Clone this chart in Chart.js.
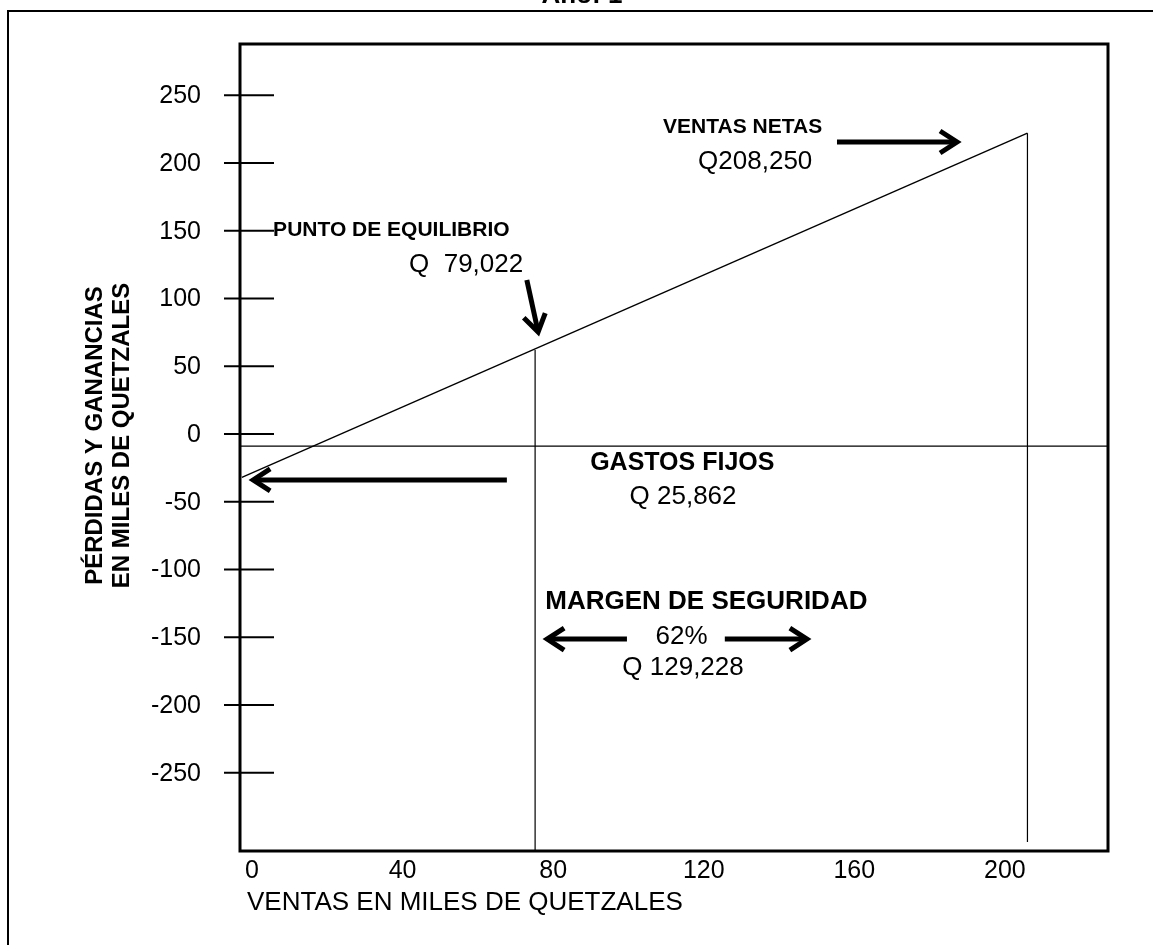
<!DOCTYPE html>
<html><head><meta charset="utf-8">
<script src="https://cdn.jsdelivr.net/npm/chart.js@4.4.1/dist/chart.umd.min.js"></script>
<style>html,body{margin:0;padding:0;background:#fff;}canvas{display:block;}</style>
</head><body>
<canvas id="c" width="1153" height="945"></canvas>
<script>
// ---- data ----
const chartTitle = 'Año: 1';
const xAxisTitle = 'VENTAS EN MILES DE QUETZALES';
const yAxisTitle = ['PÉRDIDAS Y GANANCIAS', 'EN MILES DE QUETZALES'];
const xTickValues = [0, 40, 80, 120, 160, 200];
const xTickLabels = ['0', '40', '80', '120', '160', '200'];
const yTickValues = [250, 200, 150, 100, 50, 0, -50, -100, -150, -200, -250];
const yTickLabels = ['250', '200', '150', '100', '50', '0', '-50', '-100', '-150', '-200', '-250'];
const xRange = [-3.2, 227.4];
const yRange = [-307.7, 287.8];
const salesLineX = [-2.7, 206];
const salesLineY = [-32, 222];
const fixedCostLevel = -9;
const breakevenX = 75.2;
const breakevenY = 62;
const netSalesX = 206;
const netSalesTop = 222;
const netSalesBottom = -301;
const labelTexts = ['PUNTO DE EQUILIBRIO', 'Q  79,022', 'VENTAS NETAS', 'Q208,250', 'GASTOS FIJOS', 'Q 25,862', 'MARGEN DE SEGURIDAD', '62%', 'Q 129,228'];
const labelX = [5.6, 41.7, 109.2, 118.5, 114.3, 114.5, 120.7, 114.1, 114.5];
const labelY = [150.6, 124.7, 226.6, 200.7, -21.4, -46.5, -124, -149.8, -172.7];
const arrowFromX = [73.0, 155.4, 67.7, 99.6, 125.6];
const arrowFromY = [113.7, 215.5, -33.9, -151.3, -151.3];
const arrowToX = [76.0, 187.3, 0.3, 78.4, 147.4];
const arrowToY = [75.3, 215.5, -33.9, -151.3, -151.3];

// ---- styles ----
const FONT = '"Liberation Sans", Arial, Helvetica, sans-serif';
const labelStyle = [
  {bold: true, size: 21, align: 'left'},
  {bold: false, size: 26, align: 'left'},
  {bold: true, size: 21, align: 'left'},
  {bold: false, size: 26, align: 'left'},
  {bold: true, size: 25, align: 'center'},
  {bold: false, size: 26, align: 'center'},
  {bold: true, size: 26, align: 'center'},
  {bold: false, size: 26, align: 'center'},
  {bold: false, size: 26, align: 'center'}
];

function drawArrow(ctx, x1, y1, x2, y2) {
  const ang = Math.atan2(y2 - y1, x2 - x1);
  const hl = 17, hw = 11;
  ctx.save();
  ctx.strokeStyle = '#000';
  ctx.lineWidth = 5;
  ctx.lineCap = 'butt';
  ctx.beginPath();
  ctx.moveTo(x1, y1);
  ctx.lineTo(x2 - Math.cos(ang) * 3, y2 - Math.sin(ang) * 3);
  ctx.stroke();
  ctx.lineJoin = 'miter';
  ctx.beginPath();
  const bx = x2 - Math.cos(ang) * hl, by = y2 - Math.sin(ang) * hl;
  const px = -Math.sin(ang) * hw, py = Math.cos(ang) * hw;
  ctx.moveTo(bx + px, by + py);
  ctx.lineTo(x2, y2);
  ctx.lineTo(bx - px, by - py);
  ctx.stroke();
  ctx.restore();
}

const decor = {
  id: 'decor',
  beforeDraw(chart) {
    const ctx = chart.ctx;
    ctx.save();
    ctx.fillStyle = '#fff';
    ctx.fillRect(0, 0, chart.width, chart.height);
    ctx.restore();
  },
  afterDraw(chart) {
    const ctx = chart.ctx;
    const xs = chart.scales.x, ys = chart.scales.y;
    const a = chart.chartArea;
    ctx.save();
    // outer frame
    ctx.strokeStyle = '#000';
    ctx.lineWidth = 2;
    ctx.beginPath();
    ctx.moveTo(chart.width + 5, 11);
    ctx.lineTo(8, 11);
    ctx.lineTo(8, chart.height + 5);
    ctx.stroke();
    // title (cut at top)
    ctx.fillStyle = '#000';
    ctx.font = 'bold 26px ' + FONT;
    ctx.textAlign = 'center';
    ctx.textBaseline = 'alphabetic';
    ctx.fillText(chartTitle, 582, 3);
    // plot frame
    ctx.lineWidth = 3;
    ctx.strokeRect(a.left, a.top, a.right - a.left, a.bottom - a.top);
    // y ticks
    ctx.lineWidth = 2;
    ctx.font = '25px ' + FONT;
    ctx.textAlign = 'right';
    ctx.textBaseline = 'middle';
    yTickValues.forEach((v, i) => {
      const y = ys.getPixelForValue(v);
      ctx.beginPath();
      ctx.moveTo(a.left - 16, y);
      ctx.lineTo(a.left + 34, y);
      ctx.stroke();
      ctx.fillText(yTickLabels[i], a.left - 39, y + 1);
    });
    // x tick labels
    ctx.textAlign = 'center';
    ctx.textBaseline = 'middle';
    xTickValues.forEach((v, i) => {
      ctx.fillText(xTickLabels[i], xs.getPixelForValue(v), a.bottom + 20);
    });
    // x title
    ctx.font = '26px ' + FONT;
    ctx.textAlign = 'left';
    ctx.fillText(xAxisTitle, a.left + 7, a.bottom + 52);
    // y title
    ctx.font = 'bold 24px ' + FONT;
    ctx.textAlign = 'center';
    const cy = (a.top + a.bottom) / 2 - 12;
    [[95, yAxisTitle[0]], [122, yAxisTitle[1]]].forEach(([x, t]) => {
      ctx.save();
      ctx.translate(x, cy);
      ctx.rotate(-Math.PI / 2);
      ctx.fillText(t, 0, 0);
      ctx.restore();
    });
    // annotations
    labelTexts.forEach((t, i) => {
      const st = labelStyle[i];
      ctx.font = (st.bold ? 'bold ' : '') + st.size + 'px ' + FONT;
      ctx.textAlign = st.align;
      ctx.textBaseline = 'middle';
      ctx.fillText(t, xs.getPixelForValue(labelX[i]), ys.getPixelForValue(labelY[i]));
    });
    arrowFromX.forEach((_, i) => {
      drawArrow(ctx, xs.getPixelForValue(arrowFromX[i]), ys.getPixelForValue(arrowFromY[i]),
        xs.getPixelForValue(arrowToX[i]), ys.getPixelForValue(arrowToY[i]));
    });
    ctx.restore();
  }
};

const lineDs = (data, w) => ({
  data, showLine: true, borderColor: '#000', borderWidth: w, pointRadius: 0, fill: false, tension: 0
});

new Chart(document.getElementById('c'), {
  type: 'scatter',
  data: {
    datasets: [
      lineDs(salesLineX.map((x, i) => ({x, y: salesLineY[i]})), 1.4),
      lineDs([{x: xRange[0], y: fixedCostLevel}, {x: xRange[1], y: fixedCostLevel}], 1.3),
      lineDs([{x: breakevenX, y: breakevenY}, {x: breakevenX, y: yRange[0]}], 1.2),
      lineDs([{x: netSalesX, y: netSalesTop}, {x: netSalesX, y: netSalesBottom}], 1.2)
    ]
  },
  options: {
    responsive: false,
    animation: false,
    devicePixelRatio: 1,
    layout: {padding: {left: 240, top: 44, right: 45, bottom: 94}},
    scales: {
      x: {type: 'linear', min: xRange[0], max: xRange[1], display: false},
      y: {type: 'linear', min: yRange[0], max: yRange[1], display: false}
    },
    plugins: {legend: {display: false}, tooltip: {enabled: false}, title: {display: false}}
  },
  plugins: [decor]
});
</script>
</body></html>
